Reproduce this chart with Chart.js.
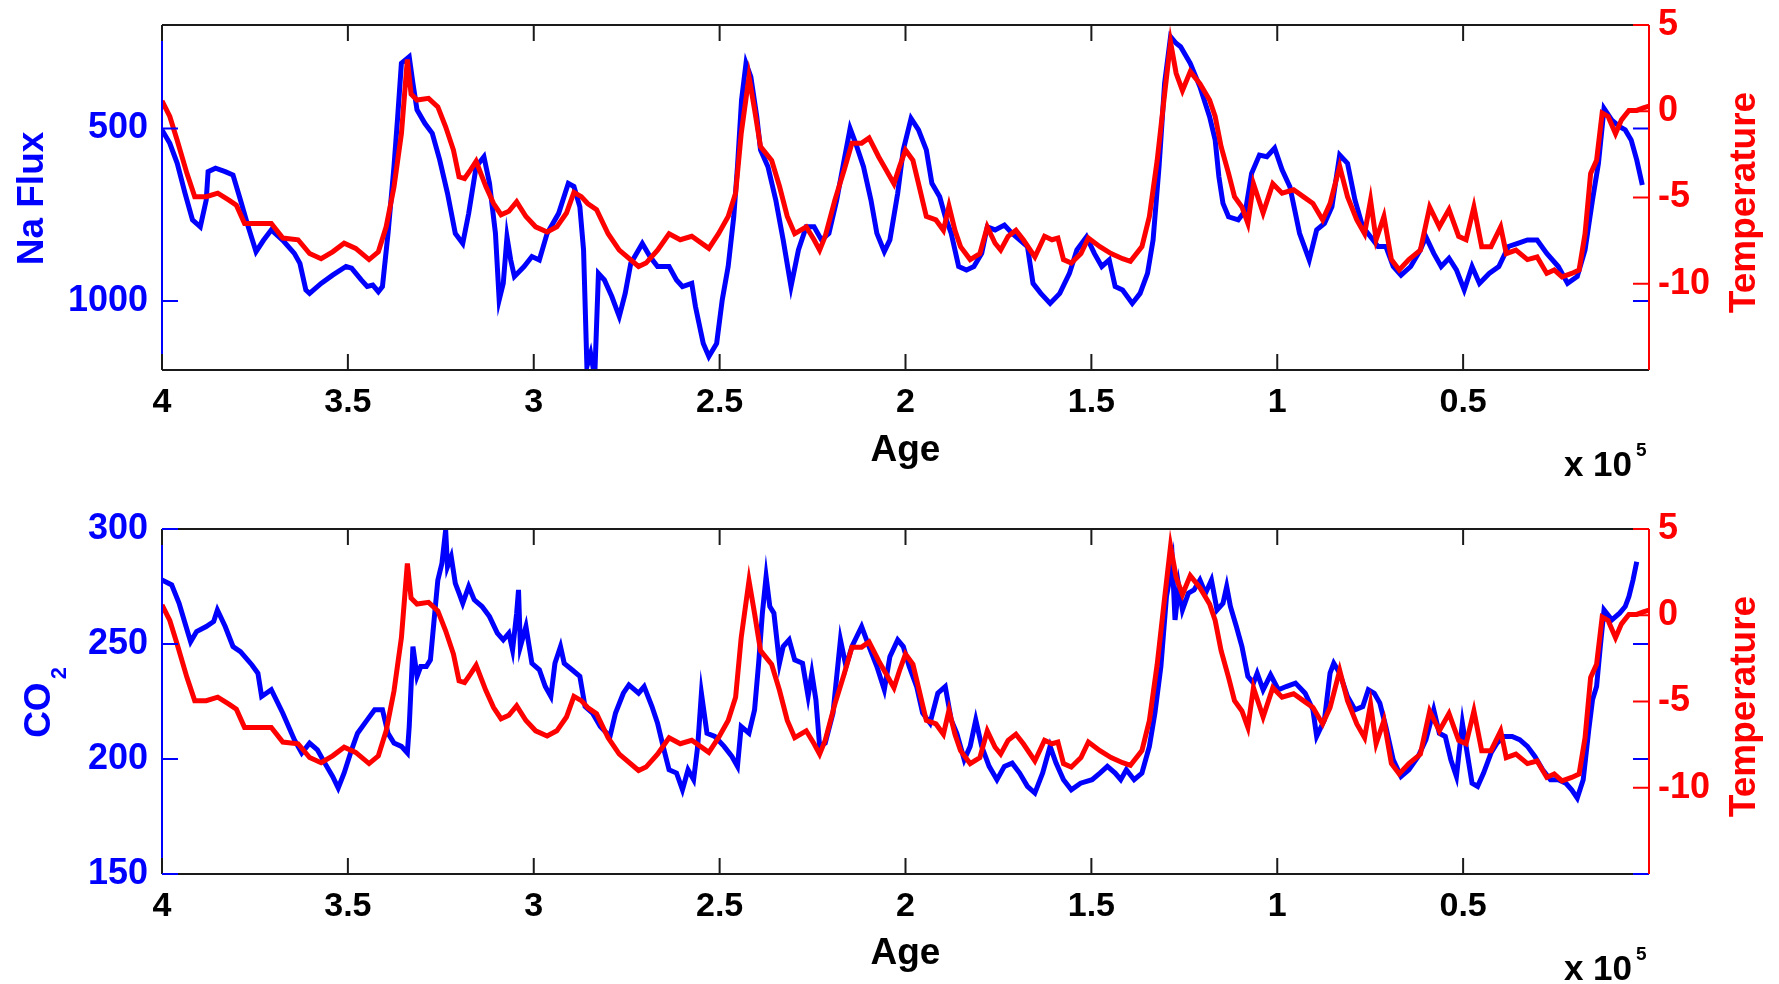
<!DOCTYPE html>
<html>
<head>
<meta charset="utf-8">
<script src="https://cdn.jsdelivr.net/npm/chart.js@4.4.0/dist/chart.umd.min.js"></script>
<style>
html,body{margin:0;padding:0;background:#fff;}
#wrap{position:relative;width:1779px;height:984px;overflow:hidden;background:#fff;}
.panel{position:absolute;left:0;width:1779px;height:492px;}
canvas{display:block;}
</style>
</head>
<body>
<div id="wrap">
  <div class="panel" style="top:0px"><canvas id="c1" width="1779" height="492"></canvas></div>
  <div class="panel" style="top:492px"><canvas id="c2" width="1779" height="492"></canvas></div>
</div>
<script>
// ---- Data (age in kyr before present) ----
const tempAge = [
400,397.9,395.9,393.3,391.2,388.1,385,382,380,377.8,
370.6,367.5,363.4,360.3,357.2,354.1,351,347.9,344.3,341.8,
339.7,337.6,335.6,334,333,331.4,328.3,325.8,323.7,321.6,
320.1,318.6,317,315.5,312.9,310.8,308.8,306.7,304.6,302.1,
299.5,296.4,293.8,291.2,289.2,287.2,285.5,283.1,280,277,
271.8,269.8,266.7,263.6,260.6,257.5,252.9,250.3,247.7,245.7,
244.2,242.1,240.6,239,236,233.9,231.8,229.8,226.7,224.6,
223.1,221.6,219,216.5,214.4,211.8,209.8,207.2,205.2,203.1,
201.6,200,198,196.5,194.4,191.8,189.8,188.3,186.7,185.2,
182.6,180,178,175.9,174.4,172.4,170.3,168.3,165.2,162.6,
160.6,159,157.5,155.4,152.8,150.8,147.7,144.7,141.6,139.5,
136.4,134.4,132.3,130.3,128.7,127.2,125.5,123.4,120.8,118.2,
116.7,115.1,113.1,111.5,109.5,107.9,106.4,103.8,101.2,98.7,
95.6,93,90.4,87.8,85.8,83.2,81.1,78.6,76.5,74.9,
73.4,71.3,69.3,67.2,64.6,61.5,59,56.4,53.8,51.2,
49.2,47.1,45,42.5,39.9,38.4,35.8,32.7,30.1,27.5,
25.5,23.4,20.8,18.8,17.2,15.7,14.1,12.6,11,9,
7.4,5.4,3.3,1.5,0];
const tempValue = [
0.6,-0.3,-1.7,-3.6,-4.95,-4.95,-4.75,-5.15,-5.45,-6.5,
-6.5,-7.35,-7.45,-8.25,-8.55,-8.15,-7.65,-7.95,-8.6,-8.15,
-6.7,-4.4,-1.3,3.0,1.0,0.65,0.75,0.25,-0.9,-2.25,
-3.8,-3.9,-3.4,-2.9,-4.35,-5.35,-6.0,-5.8,-5.25,-6.1,
-6.7,-7.0,-6.7,-5.9,-4.7,-4.95,-5.35,-5.7,-7.1,-8.05,
-9.0,-8.8,-8.05,-7.1,-7.45,-7.25,-7.95,-7.1,-6.1,-4.75,
-1.3,2.0,0.1,-2.05,-2.85,-4.35,-6.1,-7.1,-6.7,-7.45,
-8.05,-7.25,-5.15,-3.4,-1.85,-1.85,-1.55,-2.65,-3.4,-4.2,
-3.2,-2.25,-2.85,-4.2,-6.1,-6.3,-6.9,-5.5,-6.9,-7.85,
-8.6,-8.25,-6.7,-7.65,-8.05,-7.25,-6.9,-7.45,-8.45,-7.25,
-7.45,-7.35,-8.6,-8.8,-8.25,-7.35,-7.85,-8.25,-8.55,-8.7,
-7.85,-6.1,-2.85,1.0,4.0,2.2,1.2,2.3,1.6,0.65,
-0.3,-2.05,-3.6,-4.95,-5.55,-6.5,-4.2,-5.9,-4.2,-4.75,
-4.55,-4.95,-5.35,-6.3,-5.35,-3.2,-4.95,-6.3,-7.1,-5.15,
-7.45,-6.1,-8.6,-9.2,-8.6,-8.05,-5.55,-6.7,-5.7,-7.25,
-7.45,-5.55,-7.85,-7.85,-6.7,-8.25,-8.05,-8.6,-8.45,-9.4,
-9.2,-9.6,-9.4,-9.2,-7.1,-3.6,-2.85,-0.1,-0.3,-1.3,
-0.5,0.05,0.05,0.2,0.3];

const naAge = [
400,397.9,395.9,393.8,391.8,389.7,388.1,387.6,385.6,383,
380.9,378.9,376.8,374.7,372.7,370.6,367.5,364.4,362.9,361.3,
360.3,357.2,354.1,350.5,349,346.4,344.8,343.3,341.8,340.7,
339.2,337.6,336.6,335.6,333.5,332.5,331.4,329.3,327.3,325.3,
323.2,321.1,319.1,317.5,315.5,313.4,311.9,310.3,309.3,308.2,
307.2,306.2,305.2,302.6,300.5,298.5,296.4,293.3,290.7,289.2,
287.6,286.6,285.7,284.7,283.6,282.6,281,279,277,275.4,
273.9,270.8,268.7,266.7,263.6,261.6,260,257.5,256.5,254.4,
252.9,250.8,249.3,247.7,246.2,245.2,244.1,242.9,241.6,240,
239,237,234.9,232.9,230.8,228.8,226.7,224.6,222.6,220.6,
218.5,216.5,214.9,213.4,211.3,209.3,207.7,205.7,204.2,202.1,
200.6,198.5,196.5,194.4,192.9,190.8,189.3,187.7,185.7,183.6,
181.6,179.5,178,175.9,173.4,171.3,169.3,167.2,165.7,163.6,
161.1,158.5,155.9,153.9,151.3,149.2,147.2,145.2,143.6,141.6,
139,136.9,134.9,133.4,131.8,130.3,128.7,127.2,126,123.4,
120.8,118.2,116.7,115.7,114.6,113.1,110.5,108.5,106.9,104.8,
102.8,100.7,98.7,96.6,94,91.4,89.4,87.3,85.3,83.2,
81.1,79.1,77,74.9,72.9,70.8,68.8,66.7,64.1,61.5,
60,57.9,55.9,53.8,51.8,49.7,47.6,45.6,43,40.4,
37.8,35.3,32.7,30.1,27.5,24.4,21.9,19.3,17.2,15.2,
13.6,12.1,10,7.9,6.4,4.8,3.3,1.8];
const naFlux = [
504,543,601,688,765,785,707,625,615,625,
635,707,785,857,824,794,824,862,891,968,
978,949,925,900,905,939,958,954,973,958,
804,611,466,311,292,369,446,485,514,591,
688,804,833,746,611,582,659,804,997,949,
814,881,929,900,871,881,804,746,659,668,
727,852,1190,1152,1220,920,939,987,1045,978,
891,833,872,900,900,939,958,949,1016,1123,
1161,1123,997,900,756,611,417,311,350,466,
562,611,707,823,958,852,785,785,823,804,
707,591,500,543,611,707,804,857,823,688,
562,471,504,562,659,698,756,804,900,910,
900,862,785,794,780,804,823,842,949,978,
1007,978,920,852,814,862,900,881,958,968,
1007,978,920,823,611,369,234,253,263,311,
379,466,533,640,717,756,765,736,630,577,
582,557,620,669,804,881,794,775,727,577,
601,707,785,814,842,842,900,925,900,852,
814,862,900,876,910,968,900,949,920,900,
842,833,823,823,862,900,949,929,852,707,
601,442,476,495,504,533,591,664];

const co2Age = [
400,397.4,395.4,393.8,392.3,390.7,388.1,386.1,385.1,383,
380.9,378.9,375.8,374.2,373.2,370.6,367.5,364.4,362.4,360.3,
358.2,356.2,354.1,352.6,351,349,347.4,344.8,342.8,340.7,
339.2,337.6,335.6,334,333.5,332.5,331.4,330.4,328.9,327.8,
326.8,325.8,324.7,323.7,323.2,322.2,321.1,320.1,319.1,317.5,
316,313.9,311.9,309.8,308.2,306.7,305.7,304.6,304.1,303.6,
302.1,300.5,298.5,296.9,295.4,294.3,292.8,291.8,289.7,287.6,
286.2,284.2,282.1,279.5,278,275.9,274.4,271.8,270.3,268.2,
266.7,265.2,263.6,261.6,260,258.5,257,255.9,254.9,253.4,
251.3,248.8,246.7,245.2,244.2,242.1,240.6,239.5,238.5,237.5,
236.5,235.4,233.9,232.9,231.3,229.8,227.7,226.2,225.2,224.1,
223.1,221.6,219.5,217.5,216,214.4,211.8,209.8,207.7,205.7,
204.2,202.1,200.6,199,197,195.4,193.4,191.3,189.3,187.7,
186.2,184.2,182.6,181.1,179.5,177.5,175.4,173.4,171.3,169.3,
167.2,165.2,163.1,161.1,159.5,157.5,155.4,152.9,149.8,147.7,
145.7,143.6,142.1,140.6,138.5,136.4,134.4,132.9,131.3,129.8,
128.2,127.5,126.5,125.5,123.9,122.4,120.8,119.3,117.7,116.2,
114.6,113.6,112.6,111,109.5,107.9,106.4,105.4,103.8,101.8,
99.7,97.6,95.1,92.5,90.4,89.4,87.3,85.8,84.8,83.2,
81.1,79.1,77,75.5,73.9,72.4,70.8,68.8,66.7,64.6,
62.1,60,57.9,56.4,54.8,53.3,51.8,50.2,49.2,47.6,
46.1,44.5,42.5,40.9,38.9,36.8,34.8,32.7,30.7,28.6,
26.5,24.4,22.4,20.8,19.3,17.7,16.2,15.2,14.1,13.1,
12.1,10,7.9,6.4,5.4,4.3,3.3];
const co2Value = [
277.8,275.7,267.7,259,251,255.4,257.6,259.8,264.8,257.6,
248.9,246.7,240.9,237.3,227.2,230.1,219.9,208.4,202.6,206.9,
204,198.2,192.4,187.4,193.9,204,211.2,217,221.4,221.4,
211.2,206.9,205.5,202.6,214.1,248.9,235.9,240.2,240.2,243.1,
260.5,277.8,285.1,299.6,283.6,288,276.4,272.1,267.7,275,
269.2,266.3,261.9,254.7,251.8,254.7,247.4,263.4,273.5,248.9,
257.6,241.6,238.8,231.5,227.2,241.6,248.9,241.6,238.8,235.9,
222.8,220,214.1,209.8,220,228.6,232.2,228.6,231.5,222.8,
215.6,205.5,195.3,193.9,186.6,195.3,191,205.5,228.6,211.2,
209.8,205.5,201.1,196.8,214.1,211.2,221.4,241.7,263.4,279.3,
266.3,263.4,241.6,248.9,251.8,243.1,241.6,227.2,237.3,225.7,
205.5,206.9,220,251.8,240.2,248.9,257.6,248.9,240.2,230.1,
244.5,251.8,248.9,240.2,231.5,220,215.6,228.6,231.5,217,
211.2,199.7,205.5,217,205.5,196.8,191,196.8,198.2,193.9,
188.1,185.2,193.9,205.5,198.2,191,186.6,189.5,191,193.9,
196.8,193.9,191,195.3,191,193.9,205.5,220,240.2,270.6,
285.1,260.5,275,264.8,272.1,273.5,277.8,272.1,277.8,264.8,
267.7,275,266.3,257.6,248.9,235.9,233,237.3,230.1,236.6,
230.1,231.5,233,228.6,221.4,209.8,217,237.3,241.6,237.3,
227.2,221.4,222.8,230.1,228.6,224.3,214.1,199.7,192.4,195.3,
201.1,208.4,221.4,211.2,209.8,199.7,192.4,215.6,205.5,189.5,
188.1,193.9,202.6,206.9,209.8,209.8,208.4,205.5,201.1,195.3,
191,191,189.5,186.6,183,191,212.7,225.7,231.5,248.9,
264.8,260.5,263.4,266.3,270.6,277.8,285.8];

// ---- Ticks ----
const ageTicks = [400,350,300,250,200,150,100,50,0];
const ageTickLabels = ['4','3.5','3','2.5','2','1.5','1','0.5',''];
const naTicks = [500,1000];
const co2Ticks = [150,200,250,300];
const tempTicks = [-10,-5,0,5];

// ---- Styling ----
const BLUE = '#0000ff', RED = '#ff0000', BLACK = '#1a1a1a';
const FONT = "'Liberation Sans', Arial, Helvetica, sans-serif";

function pts(xs, ys) { return xs.map((x, i) => ({x: x, y: ys[i]})); }

const decorPlugin = {
  id: 'decor',
  afterDraw(chart, args, o) {
    const ctx = chart.ctx, a = chart.chartArea, s = chart.scales;
    const T = 16;
    ctx.save();
    ctx.lineWidth = 2;
    const seg = (x1, y1, x2, y2, c) => {
      ctx.strokeStyle = c; ctx.beginPath(); ctx.moveTo(x1, y1); ctx.lineTo(x2, y2); ctx.stroke();
    };
    seg(a.left, a.top, a.right, a.top, BLACK);
    seg(a.left, a.bottom, a.right, a.bottom, BLACK);
    seg(a.left, a.top, a.left, a.bottom, BLUE);
    s.x.ticks.forEach(t => {
      const px = s.x.getPixelForValue(t.value);
      seg(px, a.top, px, a.top + T, BLACK);
      seg(px, a.bottom, px, a.bottom - T, BLACK);
    });
    s.y.ticks.forEach(t => {
      const py = s.y.getPixelForValue(t.value);
      seg(a.left, py, a.left + T, py, BLUE);
      seg(a.right, py, a.right - T, py, BLUE);
    });
    seg(a.right, a.top, a.right, a.bottom, RED);
    s.y1.ticks.forEach(t => {
      const py = s.y1.getPixelForValue(t.value);
      seg(a.right, py, a.right - T, py, RED);
    });

    const rotated = (parts, baseX, cy, color) => {
      let total = 0;
      parts.forEach(p => { ctx.font = 'bold ' + p.size + 'px ' + FONT; p.w = ctx.measureText(p.text).width; total += p.w + (p.gap || 0); });
      ctx.save();
      ctx.translate(baseX, cy + total / 2);
      ctx.rotate(-Math.PI / 2);
      ctx.fillStyle = color;
      ctx.textAlign = 'left';
      ctx.textBaseline = 'alphabetic';
      let x = 0;
      parts.forEach(p => {
        x += (p.gap || 0);
        ctx.font = 'bold ' + p.size + 'px ' + FONT;
        ctx.fillText(p.text, x, p.dy || 0);
        x += p.w;
      });
      ctx.restore();
    };
    const cy = (a.top + a.bottom) / 2;
    rotated(o.leftTitle, a.left - o.leftTitleOffset, cy + (o.leftTitleShift || 0), BLUE);
    rotated([{text: 'Temperature', size: 37}], a.right + 106, cy + 5, RED);

    ctx.fillStyle = '#000';
    ctx.textBaseline = 'alphabetic';
    ctx.textAlign = 'right';
    ctx.font = 'bold 35px ' + FONT;
    ctx.fillText('x 10', a.right - 17, a.bottom + 106);
    ctx.textAlign = 'left';
    ctx.font = 'bold 19px ' + FONT;
    ctx.fillText('5', a.right - 13, a.bottom + 86);
    ctx.restore();
  }
};

function makeChart(id, cfg) {
  const tickFont = {family: FONT, size: 36, weight: 'bold'};
  const noPad = s => { s.paddingTop = 0; s.paddingBottom = 0; };
  return new Chart(document.getElementById(id), {
    type: 'line',
    data: {
      datasets: [
        {label: 'Temperature', data: pts(tempAge, tempValue), yAxisID: 'y1', borderColor: RED,
         borderWidth: 5, pointRadius: 0, tension: 0, fill: false, clip: 0},
        {label: cfg.label, data: cfg.blue, yAxisID: 'y', borderColor: BLUE,
         borderWidth: 5, pointRadius: 0, tension: 0, fill: false, clip: 0}
      ]
    },
    options: {
      responsive: false, animation: false, devicePixelRatio: 1, events: [],
      layout: {padding: {top: cfg.padTop, left: 0, right: 0, bottom: 0}},
      plugins: {
        legend: {display: false}, tooltip: {enabled: false},
        decor: {leftTitle: cfg.leftTitle, leftTitleOffset: cfg.leftTitleOffset, leftTitleShift: cfg.leftTitleShift}
      },
      scales: {
        x: {
          type: 'linear', min: 0, max: 400, reverse: true,
          afterBuildTicks: s => { s.ticks = ageTicks.map(v => ({value: v})); },
          afterFit: s => { s.height = cfg.xHeight; s.paddingLeft = 0; s.paddingRight = 0; },
          grid: {display: false, drawTicks: false},
          border: {display: false},
          ticks: {autoSkip: false, maxRotation: 0, minRotation: 0, padding: 12, color: '#000',
                  font: {family: FONT, size: 34, weight: 'bold'},
                  callback: v => { const i = ageTicks.indexOf(v); return i >= 0 ? ageTickLabels[i] : ''; }},
          title: {display: true, text: 'Age', color: '#000',
                  font: {family: FONT, size: 37, weight: 'bold'},
                  padding: {top: 0, bottom: cfg.agePad}}
        },
        y: {
          type: 'linear', position: 'left', min: cfg.ymin, max: cfg.ymax, reverse: cfg.yrev,
          afterBuildTicks: s => { s.ticks = cfg.yTicks.map(v => ({value: v})); },
          afterFit: s => { s.width = 162; noPad(s); },
          grid: {display: false, drawTicks: false},
          border: {display: false},
          ticks: {padding: 14, color: BLUE, font: tickFont, callback: v => String(v)}
        },
        y1: {
          type: 'linear', position: 'right', min: -15, max: 5,
          afterBuildTicks: s => { s.ticks = tempTicks.map(v => ({value: v})); },
          afterFit: s => { s.width = 130; noPad(s); },
          grid: {display: false, drawTicks: false},
          border: {display: false},
          ticks: {padding: 9, color: RED, font: tickFont, callback: v => String(v)}
        }
      }
    },
    plugins: [decorPlugin]
  });
}

makeChart('c1', {
  label: 'Na Flux', blue: pts(naAge, naFlux), ymin: 200, ymax: 1200, yrev: true, yTicks: naTicks,
  padTop: 25, xHeight: 122, agePad: 19,
  leftTitle: [{text: 'Na Flux', size: 37}], leftTitleOffset: 119, leftTitleShift: 1
});
makeChart('c2', {
  label: 'CO2', blue: pts(co2Age, co2Value), ymin: 150, ymax: 300, yrev: false, yTicks: co2Ticks,
  padTop: 37, xHeight: 110, agePad: 8,
  leftTitle: [{text: 'CO', size: 37}, {text: '2', size: 22, gap: 3, dy: 16}], leftTitleOffset: 112, leftTitleShift: 1
});
</script>
</body>
</html>
